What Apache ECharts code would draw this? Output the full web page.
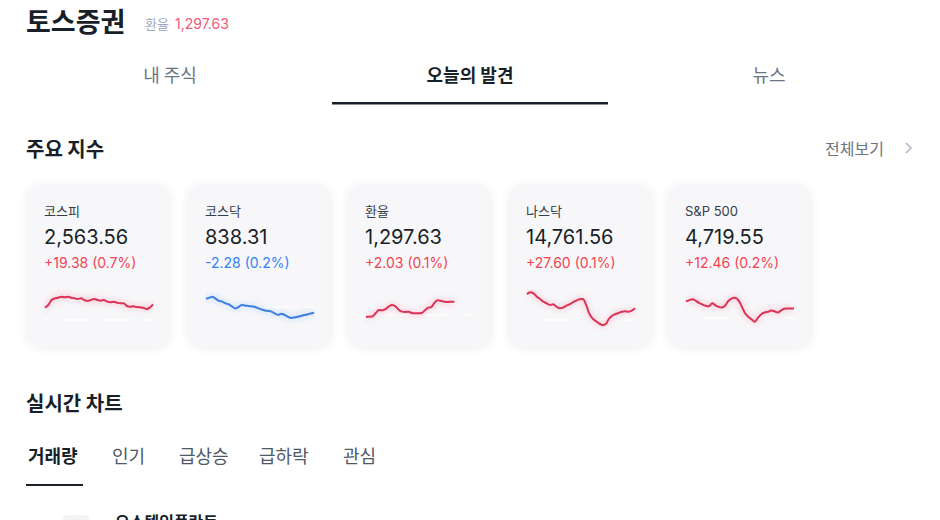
<!DOCTYPE html>
<html><head><meta charset="utf-8">
<script src="https://cdn.jsdelivr.net/npm/echarts@6/dist/echarts.min.js"></script>
<style>html,body{margin:0;padding:0;background:#fff;}#c{width:940px;height:520px;}</style>
</head><body><div id="c"></div>
<script>
// ---- data ----
const indexNames = ['코스피', '코스닥', '환율', '나스닥', 'S&P 500'];
const indexValues = ['2,563.56', '838.31', '1,297.63', '14,761.56', '4,719.55'];
const indexChanges = ['+19.38 (0.7%)', '-2.28 (0.2%)', '+2.03 (0.1%)', '+27.60 (0.1%)', '+12.46 (0.2%)'];
const indexUp = [true, false, true, true, true];
const prevClose = [2544.18, 840.59, 1295.60, 14733.96, 4707.09];
const kospiLine = [2558.8, 2562.0, 2568.0, 2570.0, 2570.8, 2572.0, 2571.2, 2572.0, 2570.8, 2570.0, 2569.2, 2570.0, 2568.0, 2566.8, 2568.0, 2569.2, 2568.0, 2567.2, 2568.0, 2566.0, 2565.2, 2566.0, 2564.8, 2564.0, 2564.0, 2560.8, 2560.0, 2560.4, 2559.6, 2559.2, 2558.8, 2557.2, 2558.8, 2562.8];
const kosdaqLine = [843.8, 844.3, 844.7, 843.8, 843.0, 842.7, 842.0, 841.6, 840.7, 840.0, 840.6, 841.4, 841.1, 841.0, 840.8, 840.6, 840.0, 839.6, 839.2, 839.0, 838.7, 838.0, 837.4, 837.9, 837.4, 836.7, 836.2, 836.4, 836.7, 837.0, 837.4, 837.6, 838.0, 838.3];
const fxLine = [1295.33, 1295.38, 1295.43, 1295.93, 1296.38, 1296.33, 1296.53, 1296.93, 1297.13, 1296.93, 1296.43, 1296.13, 1296.08, 1296.13, 1295.93, 1295.88, 1295.88, 1295.93, 1296.33, 1296.73, 1296.83, 1297.53, 1297.83, 1297.73, 1297.63, 1297.58, 1297.63, 1297.63, null, null, null, null, null, null];
const nasdaqLine = [14796.6, 14801.6, 14799.1, 14790.7, 14784.9, 14778.2, 14774.1, 14769.9, 14771.6, 14765.7, 14761.6, 14763.2, 14768.2, 14771.6, 14776.6, 14780.7, 14784.1, 14784.9, 14771.6, 14749.1, 14736.6, 14729.9, 14724.1, 14719.9, 14721.6, 14734.9, 14743.2, 14747.4, 14749.9, 14753.2, 14754.1, 14753.2, 14755.7, 14761.6];
const spLine = [4728.75, 4730.35, 4731.55, 4729.55, 4726.75, 4724.75, 4723.15, 4722.35, 4726.35, 4723.55, 4721.55, 4720.75, 4723.55, 4729.55, 4732.75, 4733.55, 4730.35, 4722.35, 4713.55, 4708.75, 4705.55, 4702.35, 4707.55, 4711.95, 4714.35, 4715.15, 4716.75, 4715.95, 4714.35, 4716.75, 4719.15, 4719.55, 4719.55, 4719.55];
const sparkLines = [kospiLine, kosdaqLine, fxLine, nasdaqLine, spLine];
const mainTabs = ['내 주식', '오늘의 발견', '뉴스'];
const chartTabs = ['거래량', '인기', '급상승', '급하락', '관심'];

// ---- layout / style ----
const FONT = "Inter, 'Noto Sans CJK KR', sans-serif";
const KFONT = "'Noto Sans CJK KR', sans-serif";
const RED = '#f04452', BLUE = '#3182f6';
const cardX = [27, 188, 348, 509, 668];
const yRanges = [[2532, 2580], [831.37, 847.37], [1293.38, 1299.38], [14707.4, 14807.4], [4691.55, 4743.55]];
const slots = Array.from({length: 34}, (_, i) => i);

const graphic = [];
function txt(x, y, text, size, fill, weight, family, align, va) {
  graphic.push({type: 'text', x: x, y: y, z: 10, silent: true,
    style: {text: text, fill: fill, fontSize: size, fontWeight: weight || 'normal',
      fontFamily: family || KFONT, align: align || 'left', verticalAlign: va || 'middle'}});
}
// header
txt(26, 20, '토스증권', 27, '#191f28', 'bold');
txt(145, 23, '환율', 13, '#a0a6c6', 'normal');
txt(175, 23, '1,297.63', 14, '#ee5b79', 'normal', FONT);
// main tabs
const mainTabX = [170, 470, 769];
mainTabs.forEach((t, i) => txt(mainTabX[i], 74, t, 18, i === 1 ? '#191f28' : '#6b7684', i === 1 ? 'bold' : 'normal', KFONT, 'center'));
graphic.push({type: 'rect', z: 10, shape: {x: 332, y: 102, width: 276, height: 2.5}, style: {fill: '#191f28'}});
// section 1
txt(26, 148, '주요 지수', 20, '#191f28', 'bold');
txt(825, 148, '전체보기', 16, '#6b7684', 'normal');
graphic.push({type: 'polyline', z: 10, shape: {points: [[906, 143], [911, 148], [906, 153]]}, style: {stroke: '#b0b8c1', lineWidth: 1.5, fill: null}});
// cards
cardX.forEach((x, i) => {
  graphic.push({type: 'rect', z: -5, shape: {x: x, y: 184, width: 143, height: 162, r: 14},
    style: {fill: '#f7f7f9', shadowBlur: 10, shadowColor: 'rgba(0,0,0,0.07)', shadowOffsetY: 2}});
  txt(x + 17, 211, indexNames[i], 13, '#333d4b', 'normal', FONT);
  txt(x + 17, 237, indexValues[i], 20, '#191f28', 'normal', FONT);
  txt(x + 17, 262, indexChanges[i], 14, indexUp[i] ? RED : BLUE, 'normal', FONT);
});
// section 2
txt(26, 402, '실시간 차트', 20, '#191f28', 'bold');
const chartTabX = [28, 112, 179, 259, 343];
chartTabs.forEach((t, i) => txt(chartTabX[i], 455, t, 18, i === 0 ? '#191f28' : '#4e5968', i === 0 ? 'bold' : 'normal'));
graphic.push({type: 'rect', z: 10, shape: {x: 26, y: 484, width: 57, height: 2}, style: {fill: '#191f28'}});
graphic.push({type: 'rect', z: 10, shape: {x: 63, y: 515, width: 26, height: 14, r: 4}, style: {fill: '#f2f4f6'}});
txt(115, 513, '오스템임플란트', 16, '#191f28', 'bold', KFONT, 'left', 'top');

const grids = [], xAxes = [], yAxes = [], series = [];
cardX.forEach((x, i) => {
  grids.push({left: x + 18, top: 290, width: 108, height: 40});
  xAxes.push({type: 'category', gridIndex: i, data: slots, boundaryGap: false, show: false});
  yAxes.push({type: 'value', gridIndex: i, min: yRanges[i][0], max: yRanges[i][1], show: false});
  const c = indexUp[i] ? '#dc3157' : '#3a7fe0';
  series.push({
    type: 'line', xAxisIndex: i, yAxisIndex: i, data: sparkLines[i], smooth: 0.35,
    symbol: 'none', connectNulls: false, silent: true, z: 5,
    lineStyle: {color: c, width: 2, shadowBlur: 6, shadowColor: indexUp[i] ? 'rgba(240,68,110,0.5)' : 'rgba(49,130,246,0.45)'},
    markLine: {silent: true, symbol: 'none', label: {show: false}, z: 1,
      lineStyle: {color: '#ffffff', width: 1.5, type: [25, 15], dashOffset: 22},
      data: [{yAxis: prevClose[i]}]}
  });
});

const chart = echarts.init(document.getElementById('c'), null, {renderer: 'svg'});
chart.setOption({
  animation: false,
  backgroundColor: '#ffffff',
  grid: grids, xAxis: xAxes, yAxis: yAxes, series: series,
  graphic: graphic
});
</script></body></html>
